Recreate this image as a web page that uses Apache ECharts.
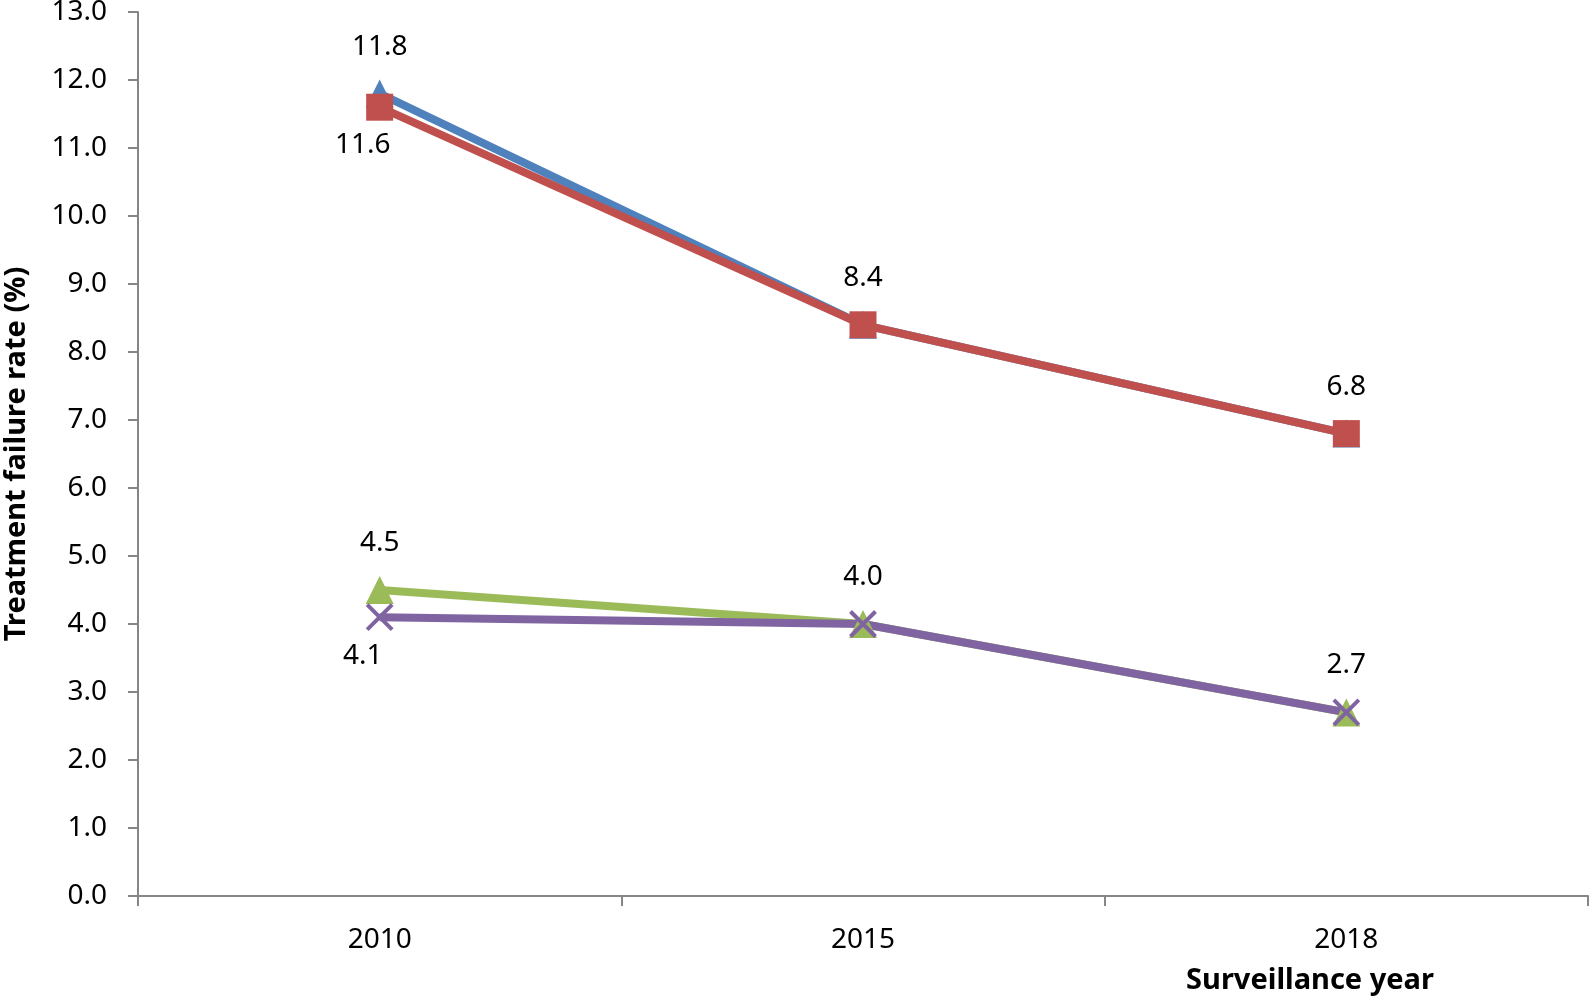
<!DOCTYPE html>
<html>
<head>
<meta charset="utf-8">
<script src="https://cdn.jsdelivr.net/npm/echarts@6/dist/echarts.min.js"></script>
<style>html,body{margin:0;padding:0;background:#fff}#c{width:1594px;height:1001px}</style>
</head>
<body>
<div id="c"></div>
<script>
var years = ['2010', '2015', '2018'];
var blueValues = [11.8, 8.4, 6.8];
var redValues = [11.6, 8.4, 6.8];
var greenValues = [4.5, 4.0, 2.7];
var purpleValues = [4.1, 4.0, 2.7];
var yTicks = [0, 1, 2, 3, 4, 5, 6, 7, 8, 9, 10, 11, 12, 13];
var yTitle = 'Treatment failure rate (%)';
var xTitle = 'Surveillance year';

var FONT = '"Noto Sans", sans-serif';
var labelFont = { fontFamily: FONT, fontSize: 28, color: '#000',
  formatter: function (p) { return Number(p.value).toFixed(1); } };

function withLabels(values, mode) {
  return values.map(function (v, i) {
    if (mode === 'top') {
      return { value: v, label: { show: true, position: 'top', distance: 19 } };
    }
    if (i === 0) {
      return { value: v, label: { show: true, position: 'bottom', distance: 10, offset: [-17, 0] } };
    }
    return { value: v, label: { show: false } };
  });
}

var chart = echarts.init(document.getElementById('c'), null, { renderer: 'canvas' });
chart.setOption({
  animation: false,
  backgroundColor: '#fff',
  grid: { left: 138, right: 6, top: 12, bottom: 105, containLabel: false, outerBoundsMode: 'none' },
  xAxis: {
    type: 'category',
    data: years,
    boundaryGap: true,
    axisLine: { lineStyle: { color: '#868686', width: 2 } },
    axisTick: { show: true, length: 10, lineStyle: { color: '#868686', width: 2 } },
    axisLabel: { margin: 30, fontFamily: FONT, fontSize: 28, color: '#000' },
    splitLine: { show: false }
  },
  yAxis: {
    type: 'value',
    min: yTicks[0],
    max: yTicks[yTicks.length - 1],
    interval: 1,
    name: yTitle,
    nameLocation: 'middle',
    nameGap: 107,
    nameTextStyle: { fontFamily: FONT, fontSize: 29, fontWeight: 'bold', color: '#000' },
    axisLine: { show: true, lineStyle: { color: '#868686', width: 2 } },
    axisTick: { show: true, length: 10, lineStyle: { color: '#868686', width: 2 } },
    axisLabel: { margin: 31, fontFamily: FONT, fontSize: 28, color: '#000',
      formatter: function (v) { return v.toFixed(1); } },
    splitLine: { show: false }
  },
  graphic: [{
    type: 'text',
    x: 1310, y: 981,
    style: { text: xTitle, align: 'center', verticalAlign: 'middle',
      font: 'bold 29px "Noto Sans", sans-serif', fill: '#000' }
  }],
  series: [
    {
      type: 'line', name: 'blue', data: withLabels(blueValues, 'top'),
      symbol: 'triangle', symbolSize: 28,
      lineStyle: { color: '#4F81BD', width: 8 },
      itemStyle: { color: '#4F81BD' },
      label: labelFont
    },
    {
      type: 'line', name: 'red', data: withLabels(redValues, 'firstBottom'),
      symbol: 'rect', symbolSize: 27,
      lineStyle: { color: '#C0504D', width: 8 },
      itemStyle: { color: '#C0504D' },
      label: labelFont
    },
    {
      type: 'line', name: 'green', data: withLabels(greenValues, 'top'),
      symbol: 'triangle', symbolSize: 28,
      lineStyle: { color: '#9BBB59', width: 8 },
      itemStyle: { color: '#9BBB59' },
      label: labelFont
    },
    {
      type: 'line', name: 'purple', data: withLabels(purpleValues, 'firstBottom'),
      symbol: 'path://M0,0L10,10M10,0L0,10', symbolSize: 25,
      lineStyle: { color: '#8064A2', width: 8 },
      itemStyle: { color: '#8064A2', borderColor: '#8064A2', borderWidth: 4 },
      label: labelFont
    }
  ]
});
</script>
</body>
</html>
